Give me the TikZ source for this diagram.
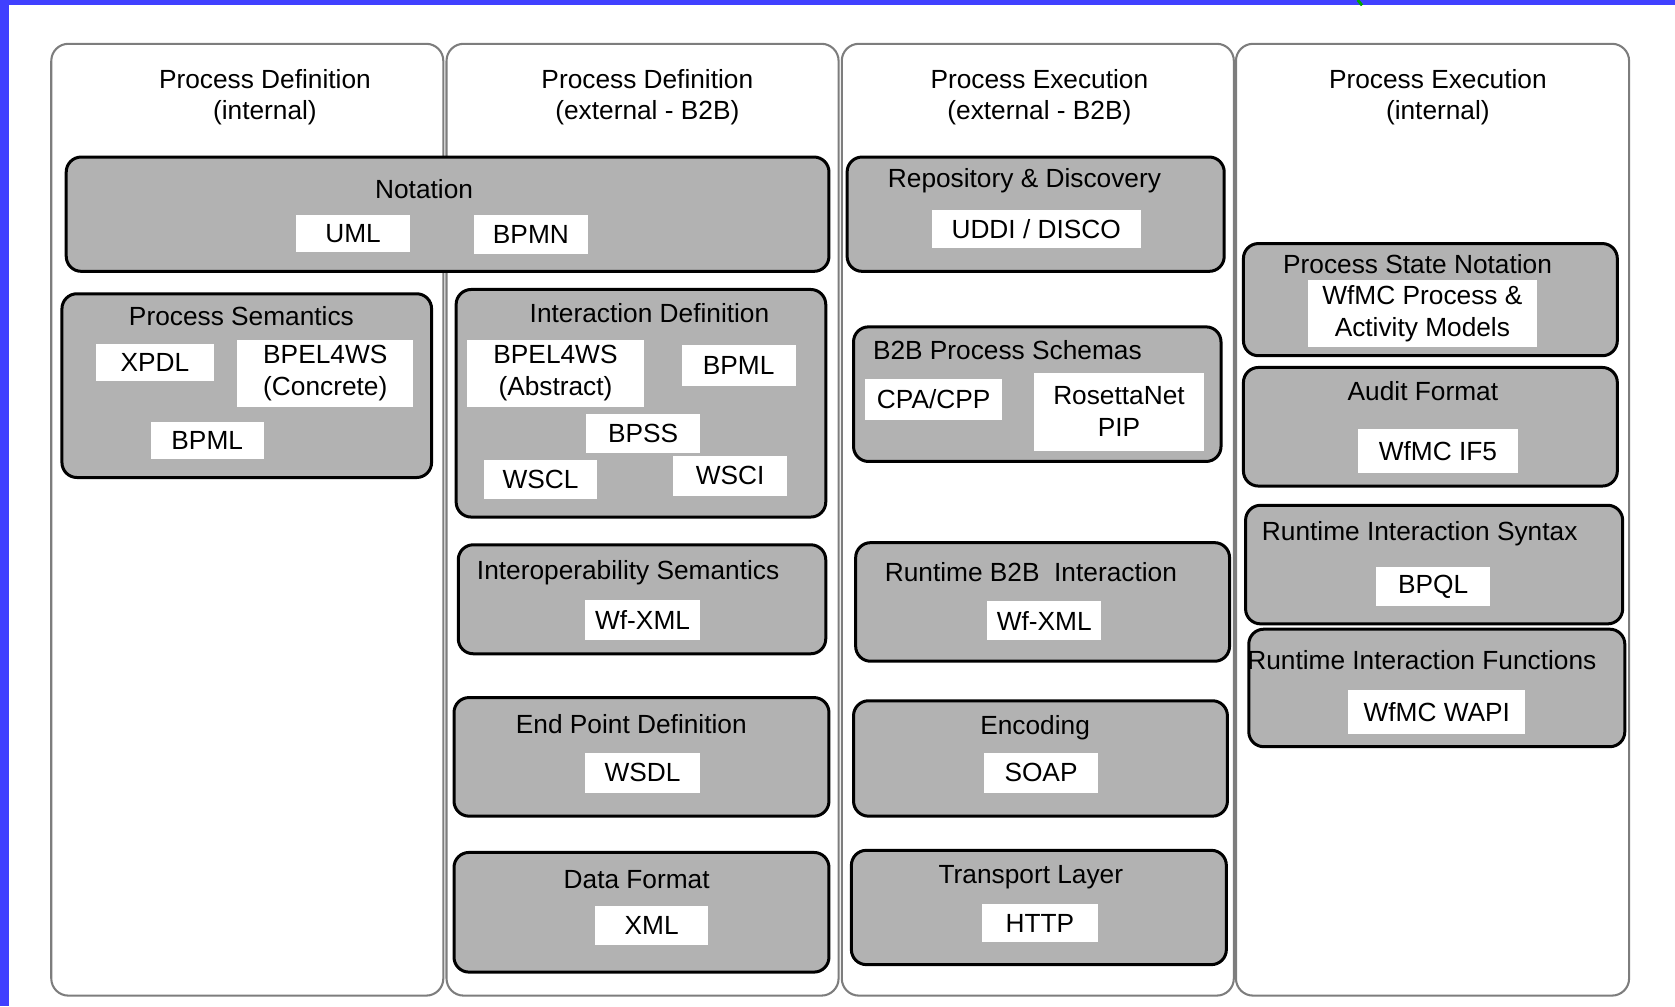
\documentclass[tikz,border=0pt]{standalone}
\usepackage{fontspec}
\setmainfont{Liberation Sans}
\usetikzlibrary{fit}
\definecolor{layergray}{RGB}{178,178,178}
\definecolor{colgray}{RGB}{125,125,125}
\definecolor{frameblue}{RGB}{64,64,255}

\begin{document}
\begin{tikzpicture}[x=0.02cm,y=-0.02cm,
	col node/.style = {draw=colgray, line width=1.1pt, rounded corners=0.32cm, inner sep=0pt},
	layer node/.style = {draw, line width=1.6pt, fill=layergray, rounded corners=0.28cm, inner sep=0pt},
	tech node/.style = {fill=white, inner sep=0pt},
	tech/.style = {label={[align=center]center:#1}},
	head node/.style = {align=center, inner sep=0pt},
	every node/.style = {font=\fontsize{14}{17}\selectfont}]
	
	\useasboundingbox (0,0) rectangle (1568,942);
	\fill[frameblue] (0,0) rectangle (1568,5);
	\fill[frameblue] (0,0) rectangle (8,942);
	\draw[green!65!black, line width=1.5pt] (1271,0) -- (1275,5);
	
	% columns
	\node[col node, fit={(48,41) (415,932)}] (c1) {};
	\node[col node, fit={(418,41) (785,932)}] (c2) {};
	\node[col node, fit={(788,41) (1155,932)}] (c3) {};
	\node[col node, fit={(1157,41) (1525,932)}] (c4) {};
	\node[head node] (h1) at (248,91) {Process Definition\\(internal)};
	\node[head node] (h2) at (606,91) {Process Definition\\(external - B2B)};
	\node[head node] (h3) at (973,91) {Process Execution\\(external - B2B)};
	\node[head node] (h4) at (1346,91) {Process Execution\\(internal)};
	
	% definition side
	\node[layer node, fit={(62,147) (776,254)}] (notation) {};
	\node[head node] (notationT) at (397,177) {Notation};
	\node[tech node, fit={(277,201) (384,236)}, tech=UML] (uml) {};
	\node[tech node, fit={(444,201) (550,238)}, tech=BPMN] (bpmn) {};
	
	\node[layer node, fit={(58,275) (404,447)}] (procsem) {};
	\node[head node] (procsemT) at (226,296) {Process Semantics};
	\node[tech node, fit={(90,322) (200,357)}, tech=XPDL] (xpdl) {};
	\node[tech node, fit={(222,318) (387,381)}, tech={BPEL4WS\\(Concrete)}] (bpelc) {};
	\node[tech node, fit={(141,395) (247,430)}, tech=BPML] (bpml1) {};
	
	\node[layer node, fit={(427,271) (773,484)}] (interdef) {};
	\node[head node] (interdefT) at (608,293) {Interaction Definition};
	\node[tech node, fit={(437,318) (603,381)}, tech={BPEL4WS\\(Abstract)}] (bpela) {};
	\node[tech node, fit={(638,323) (745,361)}, tech=BPML] (bpml2) {};
	\node[tech node, fit={(549,388) (655,424)}, tech=BPSS] (bpss) {};
	\node[tech node, fit={(453,431) (559,467)}, tech=WSCL] (wscl) {};
	\node[tech node, fit={(630,427) (737,464)}, tech=WSCI] (wsci) {};
	
	\node[layer node, fit={(429,510) (773,612)}] (interop) {};
	\node[head node] (interopT) at (588,536) {Interoperability Semantics};
	\node[tech node, fit={(548,562) (655,599)}, tech=Wf-XML] (wfxml1) {};
	
	\node[layer node, fit={(425,653) (776,764)}] (endpoint) {};
	\node[head node] (endpointT) at (591,678) {End Point Definition};
	\node[tech node, fit={(548,705) (655,742)}, tech=WSDL] (wsdl) {};
	
	\node[layer node, fit={(425,798) (776,910)}] (dataformat) {};
	\node[head node] (dataformatT) at (596,823) {Data Format};
	\node[tech node, fit={(557,848) (663,885)}, tech=XML] (xml) {};
	
	% execution side, B2B
	\node[layer node, fit={(793,147) (1146,254)}] (repo) {};
	\node[head node] (repoT) at (959,169) {Repository \& Discovery};
	\node[tech node, fit={(872,197) (1068,232)}, tech={UDDI / DISCO}] (uddi) {};
	
	\node[layer node, fit={(799,306) (1143,432)}] (schemas) {};
	\node[head node] (schemasT) at (943,328) {B2B Process Schemas};
	\node[tech node, fit={(810,355) (938,393)}, tech={CPA/CPP}] (cpa) {};
	\node[tech node, fit={(968,349) (1127,422)}, tech={RosettaNet\\PIP}] (rosetta) {};
	
	\node[layer node, fit={(801,508) (1151,619)}] (rtb2b) {};
	\node[head node] (rtb2bT) at (965,536) {Runtime B2B\ \ Interaction};
	\node[tech node, fit={(924,563) (1031,599)}, tech=Wf-XML] (wfxml2) {};
	
	\node[layer node, fit={(799,656) (1149,764)}] (encoding) {};
	\node[head node] (encodingT) at (969,681) {Encoding};
	\node[tech node, fit={(921,705) (1028,742)}, tech=SOAP] (soap) {};
	
	\node[layer node, fit={(797,796) (1148,903)}] (transport) {};
	\node[head node] (transportT) at (965,821) {Transport Layer};
	\node[tech node, fit={(919,846) (1028,882)}, tech=HTTP] (http) {};
	
	% execution side, internal
	\node[layer node, fit={(1164,228) (1514,333)}] (statenot) {};
	\node[head node] (statenotT) at (1327,247) {Process State Notation};
	\node[tech node, fit={(1224,262) (1439,325)}, tech={WfMC Process \&\\Activity Models}] (models) {};
	
	\node[layer node, fit={(1164,344) (1514,455)}] (audit) {};
	\node[head node] (auditT) at (1332,366) {Audit Format};
	\node[tech node, fit={(1271,402) (1421,443)}, tech={WfMC IF5}] (if5) {};
	
	\node[layer node, fit={(1166,473) (1519,584)}] (rtsyntax) {};
	\node[head node] (rtsyntaxT) at (1329,500) {Runtime Interaction Syntax};
	\node[tech node, fit={(1288,531) (1395,567)}, tech=BPQL] (bpql) {};
	
	\node[layer node, fit={(1169,589) (1521,699)}] (rtfunc) {};
	\node[head node] (rtfuncT) at (1331,618) {Runtime Interaction Functions};
	\node[tech node, fit={(1262,646) (1428,687)}, tech={WfMC WAPI}] (wapi) {};
\end{tikzpicture}
\end{document}
